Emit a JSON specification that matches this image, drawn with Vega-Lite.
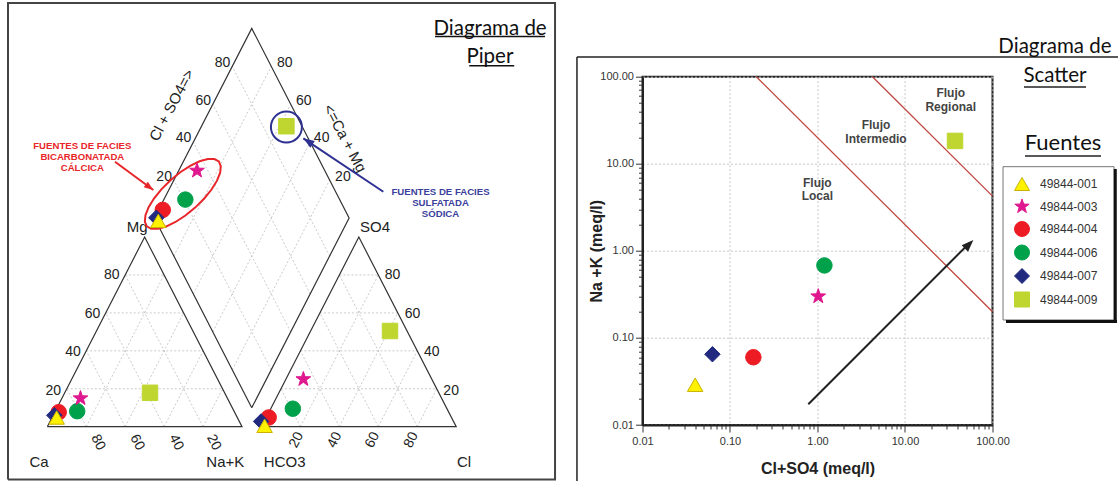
{
  "$schema": "https://vega.github.io/schema/vega-lite/v6.json",
  "width": 350,
  "height": 348.3,
  "autosize": {"type": "none"},
  "padding": {"left": 642.5, "top": 76.7, "right": 125.5, "bottom": 56},
  "background": "white",
  "config": {"view": {"stroke": "#222", "strokeWidth": 2}, "font": "Liberation Sans"},
  "datasets": {
    "pOutline": [
      {"g": "L", "o": 0, "x": 0, "y": 0}, {"g": "L", "o": 1, "x": 100, "y": 0}, {"g": "L", "o": 2, "x": 50, "y": 86.6}, {"g": "L", "o": 3, "x": 0, "y": 0},
      {"g": "R", "o": 0, "x": 110, "y": 0}, {"g": "R", "o": 1, "x": 210, "y": 0}, {"g": "R", "o": 2, "x": 160, "y": 86.6}, {"g": "R", "o": 3, "x": 110, "y": 0},
      {"g": "D", "o": 0, "x": 105, "y": 8.66}, {"g": "D", "o": 1, "x": 155, "y": 95.26}, {"g": "D", "o": 2, "x": 105, "y": 181.86}, {"g": "D", "o": 3, "x": 55, "y": 95.26}, {"g": "D", "o": 4, "x": 105, "y": 8.66}
    ],
    "pFrame": [
      {"g": "F", "o": 0, "x": -20.18, "y": -24.1}, {"g": "F", "o": 1, "x": 260.76, "y": -24.1}, {"g": "F", "o": 2, "x": 260.76, "y": 193.47}, {"g": "F", "o": 3, "x": -20.18, "y": 193.47}, {"g": "F", "o": 4, "x": -20.18, "y": -24.1}
    ],
    "pGrid": [
      {"x": 10, "y": 17.32, "x2": 90, "y2": 17.32}, {"x": 20, "y": 34.64, "x2": 80, "y2": 34.64}, {"x": 30, "y": 51.96, "x2": 70, "y2": 51.96}, {"x": 40, "y": 69.28, "x2": 60, "y2": 69.28},
      {"x": 20, "y": 0, "x2": 60, "y2": 69.28}, {"x": 40, "y": 0, "x2": 70, "y2": 51.96}, {"x": 60, "y": 0, "x2": 80, "y2": 34.64}, {"x": 80, "y": 0, "x2": 90, "y2": 17.32},
      {"x": 20, "y": 0, "x2": 10, "y2": 17.32}, {"x": 40, "y": 0, "x2": 20, "y2": 34.64}, {"x": 60, "y": 0, "x2": 30, "y2": 51.96}, {"x": 80, "y": 0, "x2": 40, "y2": 69.28},
      {"x": 120, "y": 17.32, "x2": 200, "y2": 17.32}, {"x": 130, "y": 34.64, "x2": 190, "y2": 34.64}, {"x": 140, "y": 51.96, "x2": 180, "y2": 51.96}, {"x": 150, "y": 69.28, "x2": 170, "y2": 69.28},
      {"x": 130, "y": 0, "x2": 170, "y2": 69.28}, {"x": 150, "y": 0, "x2": 180, "y2": 51.96}, {"x": 170, "y": 0, "x2": 190, "y2": 34.64}, {"x": 190, "y": 0, "x2": 200, "y2": 17.32},
      {"x": 130, "y": 0, "x2": 120, "y2": 17.32}, {"x": 150, "y": 0, "x2": 130, "y2": 34.64}, {"x": 170, "y": 0, "x2": 140, "y2": 51.96}, {"x": 190, "y": 0, "x2": 150, "y2": 69.28},
      {"x": 115, "y": 25.98, "x2": 65, "y2": 112.58}, {"x": 125, "y": 43.3, "x2": 75, "y2": 129.9}, {"x": 135, "y": 60.62, "x2": 85, "y2": 147.22}, {"x": 145, "y": 77.94, "x2": 95, "y2": 164.54},
      {"x": 95, "y": 25.98, "x2": 145, "y2": 112.58}, {"x": 85, "y": 43.3, "x2": 135, "y2": 129.9}, {"x": 75, "y": 60.62, "x2": 125, "y2": 147.22}, {"x": 65, "y": 77.94, "x2": 115, "y2": 164.54}
    ],
    "pUnder": [
      {"x": 199.1, "y": 178.2, "x2": 255.6, "y2": 178.2},
      {"x": 216.7, "y": 164.8, "x2": 239.8, "y2": 164.8}
    ],
    "pPts": [
      {"fuente": "49844-004", "x": 5.86, "y": 6.62}, {"fuente": "49844-007", "x": 3.6, "y": 5.2}, {"fuente": "49844-001", "x": 4.83, "y": 4.2},
      {"fuente": "49844-006", "x": 15.36, "y": 7.08}, {"fuente": "49844-003", "x": 17.05, "y": 12.97}, {"fuente": "49844-009", "x": 52.75, "y": 15.48},
      {"fuente": "49844-004", "x": 113.7, "y": 4.2}, {"fuente": "49844-007", "x": 109.8, "y": 2.4}, {"fuente": "49844-001", "x": 111.6, "y": 0.41},
      {"fuente": "49844-006", "x": 126.1, "y": 8.22}, {"fuente": "49844-003", "x": 131.5, "y": 21.7}, {"fuente": "49844-009", "x": 176.0, "y": 43.7},
      {"fuente": "49844-004", "x": 59.3, "y": 99.0}, {"fuente": "49844-007", "x": 56.0, "y": 95.4}, {"fuente": "49844-001", "x": 57.0, "y": 94.0},
      {"fuente": "49844-006", "x": 70.9, "y": 103.7}, {"fuente": "49844-003", "x": 76.9, "y": 116.9}, {"fuente": "49844-009", "x": 122.8, "y": 137.2}
    ],
    "pCorner": [
      {"t": "Ca", "x": -4.26, "y": -16.0}, {"t": "Na+K", "x": 91.4, "y": -16.0}, {"t": "HCO3", "x": 121.9, "y": -16.0}, {"t": "Cl", "x": 214.0, "y": -16.0},
      {"t": "Mg", "x": 46.1, "y": 91.3}, {"t": "SO4", "x": 168.3, "y": 91.3}
    ],
    "pNum": [
      {"t": "80", "x": 33.1, "y": 69.3}, {"t": "60", "x": 23.2, "y": 51.5}, {"t": "40", "x": 13.2, "y": 34.0}, {"t": "20", "x": 3.1, "y": 16.4},
      {"t": "80", "x": 177.3, "y": 69.3}, {"t": "60", "x": 187.6, "y": 51.5}, {"t": "40", "x": 197.4, "y": 34.0}, {"t": "20", "x": 207.4, "y": 16.4},
      {"t": "80", "x": 90.0, "y": 165.9}, {"t": "60", "x": 80.1, "y": 148.9}, {"t": "40", "x": 69.95, "y": 131.7}, {"t": "20", "x": 60.0, "y": 114.2},
      {"t": "80", "x": 121.9, "y": 165.9}, {"t": "60", "x": 131.7, "y": 148.9}, {"t": "40", "x": 140.9, "y": 131.7}, {"t": "20", "x": 151.8, "y": 114.2}
    ],
    "pNumCw": [
      {"t": "80", "x": 26.04, "y": -7.2}, {"t": "60", "x": 46.17, "y": -7.2}, {"t": "40", "x": 66.2, "y": -7.2}, {"t": "20", "x": 85.5, "y": -7.2}
    ],
    "pNumCcw": [
      {"t": "20", "x": 128.0, "y": -6.1}, {"t": "40", "x": 147.6, "y": -6.1}, {"t": "60", "x": 167.0, "y": -6.1}, {"t": "80", "x": 186.9, "y": -6.1}
    ],
    "pRedNote": [
      {"t": "FUENTES DE FACIES", "x": 17.98, "y": 128.26}, {"t": "BICARBONATADA", "x": 17.98, "y": 123.24}, {"t": "CÁLCICA", "x": 17.98, "y": 118.22}
    ],
    "pBlueNote": [
      {"t": "FUENTES DE FACIES", "x": 201.95, "y": 107.3}, {"t": "SULFATADA", "x": 201.95, "y": 102.28}, {"t": "SÓDICA", "x": 201.95, "y": 97.26}
    ],
    "pTitle": [
      {"t": "Diagrama de", "x": 227.4, "y": 178.9}, {"t": "Piper", "x": 227.3, "y": 166.0}
    ],
    "sPts": [
      {"fuente": "49844-004", "x": 0.185, "y": 0.06},
      {"fuente": "49844-007", "x": 0.063, "y": 0.065},
      {"fuente": "49844-001", "x": 0.04, "y": 0.029},
      {"fuente": "49844-003", "x": 1.02, "y": 0.30},
      {"fuente": "49844-006", "x": 1.2, "y": 0.68},
      {"fuente": "49844-009", "x": 37.3, "y": 18.3}
    ],
    "sRed": [
      {"x": 0.2, "y": 100, "x2": 100, "y2": 0.2},
      {"x": 4.25, "y": 100, "x2": 100, "y2": 4.25}
    ],
    "sFlujo": [
      {"t": "Flujo", "x": 0.995, "y": 6.07}, {"t": "Local", "x": 0.995, "y": 4.27},
      {"t": "Flujo", "x": 4.66, "y": 27.9}, {"t": "Intermedio", "x": 4.66, "y": 19.27},
      {"t": "Flujo", "x": 33.3, "y": 65.5}, {"t": "Regional", "x": 33.3, "y": 45.2}
    ],
    "sDecorLines": [
      {"x": 0.001782, "y": 0.002, "x2": 0.001782, "y2": 168.3},
      {"x": 0.001782, "y": 168.3, "x2": 2716, "y2": 168.3},
      {"x": 229, "y": 76.2, "x2": 1172, "y2": 76.2},
      {"x": 235, "y": 12.29, "x2": 1738, "y2": 12.29}
    ],
    "sLegendBox": [
      {"x": 131.9, "y": 9.26, "x2": 2448, "y2": 0.1609}
    ],
    "sShadow": [
      {"x": 2530, "y": 8.72, "x2": 2530, "y2": 0.1507},
      {"x": 142.6, "y": 0.1547, "x2": 2649, "y2": 0.1547}
    ]
  },
  "layer": [
    {
      "encoding": {
        "x": {"field": "x", "type": "quantitative", "scale": {"domain": [0, 210], "range": [-595.2, -186.3], "nice": false, "zero": false}, "axis": null},
        "y": {"field": "y", "type": "quantitative", "scale": {"domain": [0, 180], "range": [350.0, -44.2], "nice": false, "zero": false}, "axis": null}
      },
      "layer": [
        {"data": {"name": "pFrame"}, "mark": {"type": "line", "stroke": "#444", "strokeWidth": 2}, "encoding": {"detail": {"field": "g"}, "order": {"field": "o"}}},
        {"data": {"name": "pGrid"}, "mark": {"type": "rule", "stroke": "#bdbdbd", "strokeWidth": 0.8, "strokeDash": [2, 2]}, "encoding": {"x2": {"field": "x2"}, "y2": {"field": "y2"}}},
        {"data": {"name": "pOutline"}, "mark": {"type": "line", "stroke": "#333", "strokeWidth": 1.2}, "encoding": {"detail": {"field": "g"}, "order": {"field": "o"}}},
        {"data": {"name": "pCorner"}, "mark": {"type": "text", "font": "Liberation Sans", "fontSize": 15, "fill": "#222", "align": "center", "baseline": "middle"}, "encoding": {"text": {"field": "t"}}},
        {"data": {"name": "pNum"}, "mark": {"type": "text", "font": "Liberation Sans", "fontSize": 14, "fill": "#222", "align": "center", "baseline": "middle"}, "encoding": {"text": {"field": "t"}}},
        {"data": {"name": "pNumCw"}, "mark": {"type": "text", "font": "Liberation Sans", "fontSize": 14, "fill": "#222", "align": "center", "baseline": "middle", "angle": 63}, "encoding": {"text": {"field": "t"}}},
        {"data": {"name": "pNumCcw"}, "mark": {"type": "text", "font": "Liberation Sans", "fontSize": 14, "fill": "#222", "align": "center", "baseline": "middle", "angle": 297}, "encoding": {"text": {"field": "t"}}},
        {"data": {"values": [{"t": "Cl + SO4=>", "x": 63.9, "y": 146.8}]}, "mark": {"type": "text", "font": "Liberation Sans", "fontSize": 15, "fill": "#222", "align": "center", "baseline": "middle", "angle": 298}, "encoding": {"text": {"field": "t"}}},
        {"data": {"values": [{"t": "<=Ca + Mg", "x": 152.9, "y": 131.7}]}, "mark": {"type": "text", "font": "Liberation Sans", "fontSize": 15, "fill": "#222", "align": "center", "baseline": "middle", "angle": 62}, "encoding": {"text": {"field": "t"}}},
        {"data": {"name": "pTitle"}, "mark": {"type": "text", "font": "Lato", "fontSize": 20.5, "fill": "#111", "align": "center", "baseline": "alphabetic"}, "encoding": {"text": {"field": "t"}}},
        {"data": {"name": "pUnder"}, "mark": {"type": "rule", "stroke": "#111", "strokeWidth": 1.5}, "encoding": {"x2": {"field": "x2"}, "y2": {"field": "y2"}}},
        {"data": {"name": "pRedNote"}, "mark": {"type": "text", "font": "Liberation Sans", "fontSize": 9.6, "fontWeight": "bold", "fill": "#e8262a", "align": "center", "baseline": "middle"}, "encoding": {"text": {"field": "t"}}},
        {"data": {"name": "pBlueNote"}, "mark": {"type": "text", "font": "Liberation Sans", "fontSize": 9.6, "fontWeight": "bold", "fill": "#3b3f9c", "align": "center", "baseline": "middle"}, "encoding": {"text": {"field": "t"}}},
        {"data": {"values": [{"x": 34.77, "y": 121.0, "x2": 54.44, "y2": 108.08}]}, "mark": {"type": "rule", "stroke": "#e8262a", "strokeWidth": 2}, "encoding": {"x2": {"field": "x2"}, "y2": {"field": "y2"}}},
        {"data": {"values": [{"x": 54.44, "y": 108.08}]}, "mark": {"type": "point", "filled": true, "fill": "#e8262a", "strokeWidth": 0, "opacity": 1, "size": 156, "angle": 126.5, "shape": "M0,0L0.55,1.5L-0.55,1.5Z"}},
        {"data": {"values": [{"x": 172.57, "y": 107.3, "x2": 131.48, "y2": 131.69}]}, "mark": {"type": "rule", "stroke": "#2e3192", "strokeWidth": 2}, "encoding": {"x2": {"field": "x2"}, "y2": {"field": "y2"}}},
        {"data": {"values": [{"x": 131.48, "y": 131.69}]}, "mark": {"type": "point", "filled": true, "fill": "#2e3192", "strokeWidth": 0, "opacity": 1, "size": 220, "angle": 303.7, "shape": "M0,0L0.55,1.5L-0.55,1.5Z"}},
        {"data": {"values": [{"x": 69.6, "y": 106.3}]}, "mark": {"type": "point", "filled": false, "stroke": "#e8262a", "strokeWidth": 2, "opacity": 1, "size": 9400, "angle": 318, "shape": "M1,0L0.966,0.098L0.866,0.19L0.707,0.269L0.5,0.329L0.259,0.367L0,0.38L-0.259,0.367L-0.5,0.329L-0.707,0.269L-0.866,0.19L-0.966,0.098L-1,0L-0.966,-0.098L-0.866,-0.19L-0.707,-0.269L-0.5,-0.329L-0.259,-0.367L0,-0.38L0.259,-0.367L0.5,-0.329L0.707,-0.269L0.866,-0.19L0.966,-0.098Z"}},
        {"data": {"values": [{"x": 122.8, "y": 136.8}]}, "mark": {"type": "point", "filled": false, "shape": "circle", "stroke": "#2e3192", "strokeWidth": 2, "opacity": 1, "size": 961}},
        {
          "data": {"name": "pPts"},
          "mark": {"type": "point", "filled": true, "opacity": 1, "size": 240, "strokeWidth": 1},
          "encoding": {
            "color": {"field": "fuente", "type": "nominal", "scale": {"domain": ["49844-001", "49844-003", "49844-004", "49844-006", "49844-007", "49844-009"], "range": ["#fff200", "#e0188f", "#ed1c24", "#00a14b", "#222a80", "#bfd630"]}},
            "stroke": {"field": "fuente", "type": "nominal", "scale": {"domain": ["49844-001", "49844-003", "49844-004", "49844-006", "49844-007", "49844-009"], "range": ["#c9b200", "#e0188f", "#ed1c24", "#00a14b", "#222a80", "#bfd630"]}},
            "shape": {"field": "fuente", "type": "nominal", "scale": {"domain": ["49844-001", "49844-003", "49844-004", "49844-006", "49844-007", "49844-009"], "range": ["triangle-up", "M0,-1L0.235,-0.324L0.951,-0.309L0.38,0.124L0.588,0.809L0,0.4L-0.588,0.809L-0.38,0.124L-0.951,-0.309L-0.235,-0.324Z", "circle", "circle", "diamond", "square"]}}
          }
        }
      ]
    },
    {
      "encoding": {
        "x": {
          "field": "x", "type": "quantitative",
          "scale": {"type": "log", "domain": [0.01, 100], "nice": false},
          "axis": {
            "values": [0.01, 0.02, 0.03, 0.04, 0.05, 0.06, 0.07, 0.08, 0.09, 0.1, 0.2, 0.3, 0.4, 0.5, 0.6, 0.7, 0.8, 0.9, 1, 2, 3, 4, 5, 6, 7, 8, 9, 10, 20, 30, 40, 50, 60, 70, 80, 90, 100],
            "labelExpr": "abs(log(datum.value)/LN10-round(log(datum.value)/LN10))<0.001 ? format(datum.value, '.2f') : ''",
            "tickSize": {"condition": {"test": "abs(log(datum.value)/LN10-round(log(datum.value)/LN10))<0.001", "value": 7}, "value": 4},
            "grid": true,
            "gridOpacity": {"condition": {"test": "abs(log(datum.value)/LN10-round(log(datum.value)/LN10))<0.001", "value": 1}, "value": 0},
            "gridColor": "#c8c8c8", "gridDash": [2, 2], "gridWidth": 1,
            "domainColor": "#222", "domainWidth": 2, "tickColor": "#333", "tickWidth": 1,
            "labelFont": "Liberation Sans", "labelFontSize": 11, "labelColor": "#333", "labelPadding": 3, "labelOverlap": false, "labelFlush": false,
            "title": "Cl+SO4 (meq/l)", "titleFont": "Liberation Sans", "titleFontSize": 16, "titleFontWeight": "bold", "titleColor": "#222",
            "titleX": 175, "titleY": 43.5, "titleBaseline": "middle", "titleAlign": "center"
          }
        },
        "y": {
          "field": "y", "type": "quantitative",
          "scale": {"type": "log", "domain": [0.01, 100], "nice": false},
          "axis": {
            "values": [0.01, 0.02, 0.03, 0.04, 0.05, 0.06, 0.07, 0.08, 0.09, 0.1, 0.2, 0.3, 0.4, 0.5, 0.6, 0.7, 0.8, 0.9, 1, 2, 3, 4, 5, 6, 7, 8, 9, 10, 20, 30, 40, 50, 60, 70, 80, 90, 100],
            "labelExpr": "abs(log(datum.value)/LN10-round(log(datum.value)/LN10))<0.001 ? format(datum.value, '.2f') : ''",
            "tickSize": {"condition": {"test": "abs(log(datum.value)/LN10-round(log(datum.value)/LN10))<0.001", "value": 7}, "value": 4},
            "grid": true,
            "gridOpacity": {"condition": {"test": "abs(log(datum.value)/LN10-round(log(datum.value)/LN10))<0.001", "value": 1}, "value": 0},
            "gridColor": "#c8c8c8", "gridDash": [2, 2], "gridWidth": 1,
            "domainColor": "#222", "domainWidth": 2, "tickColor": "#333", "tickWidth": 1,
            "labelFont": "Liberation Sans", "labelFontSize": 11, "labelColor": "#333", "labelPadding": 2, "labelOverlap": false, "labelFlush": false,
            "title": "Na +K (meq/l)", "titleFont": "Liberation Sans", "titleFontSize": 16, "titleFontWeight": "bold", "titleColor": "#222",
            "titleX": -46, "titleY": 174, "titleBaseline": "middle", "titleAlign": "center", "titleAngle": 270
          }
        }
      },
      "layer": [
        {"data": {"name": "sDecorLines"}, "mark": {"type": "rule", "stroke": "#222", "strokeWidth": 1.5}, "encoding": {"x2": {"field": "x2"}, "y2": {"field": "y2"}}},
        {"data": {"name": "sRed"}, "mark": {"type": "rule", "stroke": "#c0463e", "strokeWidth": 1.3}, "encoding": {"x2": {"field": "x2"}, "y2": {"field": "y2"}}},
        {"data": {"values": [{"x": 0.785, "y": 0.0173, "x2": 55.0, "y2": 1.24}]}, "mark": {"type": "rule", "stroke": "#222", "strokeWidth": 2}, "encoding": {"x2": {"field": "x2"}, "y2": {"field": "y2"}}},
        {"data": {"values": [{"x": 60.4, "y": 1.33}]}, "mark": {"type": "point", "filled": true, "fill": "#222", "strokeWidth": 0, "opacity": 1, "size": 225, "angle": 45, "shape": "M0,0L0.6,1.6L-0.6,1.6Z"}},
        {"data": {"name": "sFlujo"}, "mark": {"type": "text", "font": "Liberation Sans", "fontSize": 12, "fontWeight": "bold", "fill": "#444", "align": "center", "baseline": "middle"}, "encoding": {"text": {"field": "t"}}},
        {"data": {"values": [{"t": "Diagrama de", "x": 517.6, "y": 188}, {"t": "Scatter", "x": 517.6, "y": 86.9}]}, "mark": {"type": "text", "font": "Lato", "fontSize": 20.5, "fill": "#111", "align": "center", "baseline": "alphabetic"}, "encoding": {"text": {"field": "t"}}},
        {"data": {"values": [{"t": "Fuentes", "x": 640, "y": 14.4}]}, "mark": {"type": "text", "font": "Lato", "fontSize": 22, "fill": "#111", "align": "center", "baseline": "alphabetic"}, "encoding": {"text": {"field": "t"}}},
        {"data": {"name": "sLegendBox"}, "mark": {"type": "rect", "fill": "white", "stroke": "#777", "strokeWidth": 1}, "encoding": {"x2": {"field": "x2"}, "y2": {"field": "y2"}}},
        {"data": {"name": "sShadow"}, "mark": {"type": "rule", "stroke": "#111", "strokeWidth": 3}, "encoding": {"x2": {"field": "x2"}, "y2": {"field": "y2"}}},
        {
          "data": {"name": "sPts"},
          "mark": {"type": "point", "filled": true, "opacity": 1, "size": 240, "strokeWidth": 1},
          "encoding": {
            "color": {
              "field": "fuente", "type": "nominal",
              "scale": {"domain": ["49844-001", "49844-003", "49844-004", "49844-006", "49844-007", "49844-009"], "range": ["#fff200", "#e0188f", "#ed1c24", "#00a14b", "#222a80", "#bfd630"]},
              "legend": {"orient": "none", "legendX": 360.5, "legendY": 88.3, "title": null, "padding": 11, "symbolSize": 225, "labelFontSize": 12, "labelFont": "Liberation Sans", "labelColor": "#333", "rowPadding": 3.5, "labelOffset": 10, "symbolStrokeWidth": 1}
            },
            "stroke": {"field": "fuente", "type": "nominal", "scale": {"domain": ["49844-001", "49844-003", "49844-004", "49844-006", "49844-007", "49844-009"], "range": ["#c9b200", "#e0188f", "#ed1c24", "#00a14b", "#222a80", "#bfd630"]}},
            "shape": {"field": "fuente", "type": "nominal", "scale": {"domain": ["49844-001", "49844-003", "49844-004", "49844-006", "49844-007", "49844-009"], "range": ["triangle-up", "M0,-1L0.235,-0.324L0.951,-0.309L0.38,0.124L0.588,0.809L0,0.4L-0.588,0.809L-0.38,0.124L-0.951,-0.309L-0.235,-0.324Z", "circle", "circle", "diamond", "square"]}}
          }
        }
      ]
    }
  ],
  "resolve": {"scale": {"x": "independent", "y": "independent"}}
}
